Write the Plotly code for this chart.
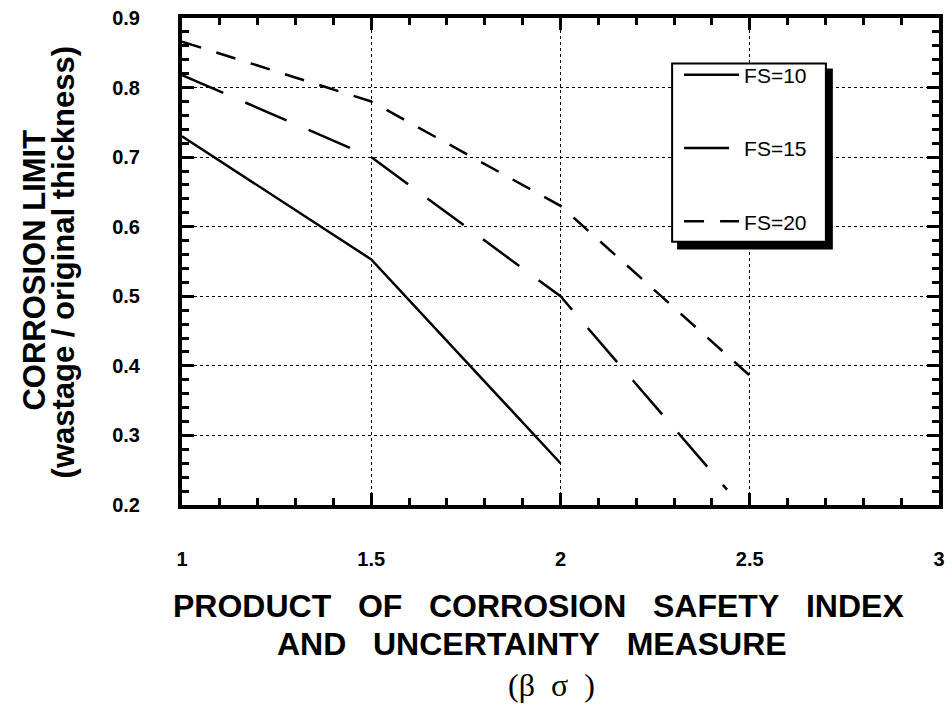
import plotly.graph_objects as go

# ---- data ----
x_fs10 = [1.0, 1.5, 2.0]
y_fs10 = [0.73, 0.553, 0.26]

x_fs15 = [1.0, 1.5, 2.0, 2.44]
y_fs15 = [0.818, 0.70, 0.50, 0.222]

x_fs20 = [1.0, 1.5, 2.0, 2.5]
y_fs20 = [0.866, 0.78, 0.63, 0.386]

series_names = ["FS=10", "FS=15", "FS=20"]
x_ticks = [1, 1.5, 2, 2.5, 3]
x_ticktext = ["1", "1.5", "2", "2.5", "3"]
y_ticks = [0.2, 0.3, 0.4, 0.5, 0.6, 0.7, 0.8, 0.9]
y_ticktext = ["0.2", "0.3", "0.4", "0.5", "0.6", "0.7", "0.8", "0.9"]

W, H = 952, 709
ML, MR, MT, MB = 182, 7, 13, 204
PW = W - ML - MR
PH = H - MT - MB


def px_x(p):
    return (p - ML) / PW


def px_y(p):
    return (H - MB - p) / PH


fig = go.Figure()
dashes = ["solid", "45px,24px", "20px,16px"]
xs = [x_fs10, x_fs15, x_fs20]
ys = [y_fs10, y_fs15, y_fs20]
for i, name in enumerate(series_names):
    fig.add_trace(go.Scatter(
        x=xs[i], y=ys[i], mode="lines", name=name,
        legendgroup=name,
        line=dict(color="black", width=2.5, dash=dashes[i]),
    ))

axis_common = dict(
    showline=True, linecolor="black", linewidth=4, mirror="allticks",
    ticks="inside", ticklen=12, tickwidth=3, tickcolor="black",
    showgrid=True, gridcolor="black", gridwidth=1, griddash="dot",
    zeroline=False,
    tickfont=dict(family="Liberation Sans", size=20, color="black", weight="bold"),
)

fig.update_xaxes(
    range=[1, 3], tickmode="array", tickvals=x_ticks, ticktext=x_ticktext,
    ticklabelstandoff=33,
    minor=dict(dtick=0.1, ticks="inside", ticklen=7, tickwidth=3, tickcolor="black", showgrid=False),
    **axis_common,
)
fig.update_yaxes(
    range=[0.2, 0.9], tickmode="array", tickvals=y_ticks, ticktext=y_ticktext,
    ticklabelstandoff=34,
    minor=dict(dtick=0.02, ticks="inside", ticklen=7, tickwidth=3, tickcolor="black", showgrid=False),
    **axis_common,
)

title_font = dict(family="Liberation Sans", size=31, color="black", weight="bold")
xtitle_font = dict(family="Liberation Sans", size=32, color="black", weight="bold")
nb = "\u00a0"
sp = nb * 3
annotations = [
    dict(text="CORROSION LIMIT", x=px_x(33), y=px_y(268), textangle=-90, font=title_font),
    dict(text="(wastage / original thickness)", x=px_x(63), y=px_y(260), textangle=-90, font=title_font),
    dict(text=f"PRODUCT{sp}OF{sp}CORROSION{sp}SAFETY{sp}INDEX", x=px_x(541), y=px_y(607), font=xtitle_font),
    dict(text=f"AND{sp}UNCERTAINTY{sp}MEASURE", x=px_x(535), y=px_y(645), font=xtitle_font),
    dict(text=f"(β{nb}{nb}σ{nb}{nb})", x=px_x(554), y=px_y(687),
         font=dict(family="Liberation Serif", size=32, color="black")),
]
for a in annotations:
    a.update(xref="paper", yref="paper", showarrow=False, xanchor="center", yanchor="middle")

# legend frame with drop shadow
shapes = [
    dict(type="rect", xref="paper", yref="paper",
         x0=px_x(681), x1=px_x(838), y0=px_y(247), y1=px_y(64),
         fillcolor="black", line=dict(width=0), layer="above"),
    dict(type="rect", xref="paper", yref="paper",
         x0=px_x(676), x1=px_x(831), y0=px_y(239), y1=px_y(59),
         fillcolor="white", line=dict(color="black", width=2), layer="above"),
]

fig.update_layout(
    width=W, height=H,
    margin=dict(l=ML, r=MR, t=MT, b=MB),
    paper_bgcolor="white", plot_bgcolor="white",
    showlegend=True,
    legend=dict(
        x=px_x(683), y=px_y(50), xanchor="left", yanchor="top",
        bgcolor="rgba(0,0,0,0)", borderwidth=0,
        font=dict(family="Liberation Sans", size=21, color="black"),
        tracegroupgap=43, traceorder="grouped", itemwidth=55,
    ),
    annotations=annotations,
    shapes=shapes,
)

fig.write_html("out.html", config={"displayModeBar": False},
               post_script="document.body.style.margin='0px';")
